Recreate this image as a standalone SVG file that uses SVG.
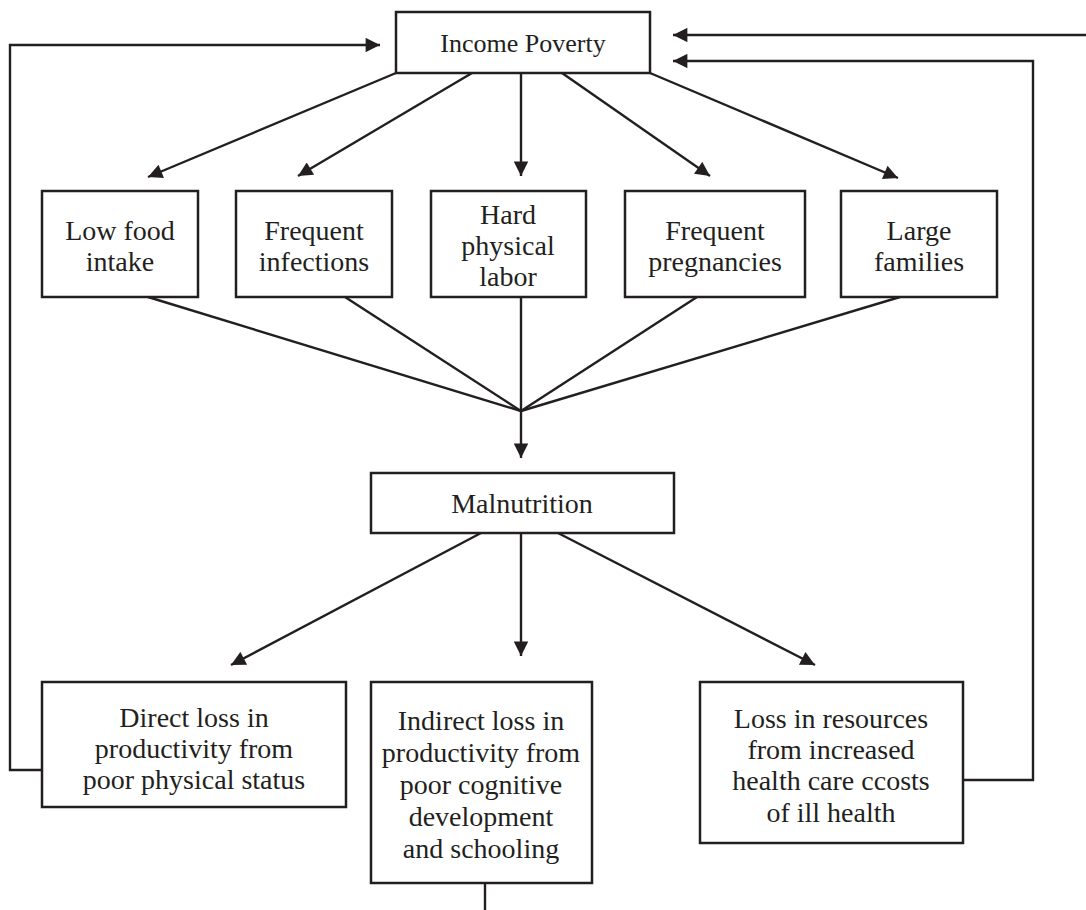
<svg xmlns="http://www.w3.org/2000/svg" width="1086" height="910" viewBox="0 0 1086 910">
<style>
.box{fill:#fff;stroke:#231f20;stroke-width:2.5}
.t{font-family:"Liberation Serif","Times New Roman",serif;font-size:28px;fill:#231f20;text-anchor:middle}
.ts{font-family:"Liberation Serif","Times New Roman",serif;font-size:26px;fill:#231f20;text-anchor:middle}
.c{fill:none;stroke:#231f20;stroke-width:2.4}
</style>
<defs>
<marker id="ah" viewBox="0 0 10 10" refX="10" refY="5" markerWidth="6.5" markerHeight="6" markerUnits="strokeWidth" orient="auto">
<path d="M0,0 L10,5 L0,10 z" fill="#231f20"/>
</marker>
</defs>
<rect width="1086" height="910" fill="#fff"/>
<g id="connectors">
<polyline class="c" points="42,770 10,770 10,45 380,45" marker-end="url(#ah)"/>
<line class="c" x1="1086" y1="35" x2="673" y2="35" marker-end="url(#ah)"/>
<polyline class="c" points="963,780 1033,780 1033,61 673,61" marker-end="url(#ah)"/>
<line class="c" x1="396" y1="73" x2="148" y2="177" marker-end="url(#ah)"/>
<line class="c" x1="472" y1="73" x2="298" y2="176" marker-end="url(#ah)"/>
<line class="c" x1="521" y1="73" x2="521" y2="176" marker-end="url(#ah)"/>
<line class="c" x1="562" y1="73" x2="710" y2="176" marker-end="url(#ah)"/>
<line class="c" x1="650" y1="73" x2="898" y2="178" marker-end="url(#ah)"/>
<line class="c" x1="148" y1="297" x2="521" y2="411"/>
<line class="c" x1="345" y1="297" x2="521" y2="411"/>
<line class="c" x1="521" y1="297" x2="521" y2="411"/>
<line class="c" x1="697" y1="297" x2="521" y2="411"/>
<line class="c" x1="900" y1="297" x2="521" y2="411"/>
<line class="c" x1="521" y1="411" x2="521" y2="458" marker-end="url(#ah)"/>
<line class="c" x1="481" y1="533" x2="231" y2="665" marker-end="url(#ah)"/>
<line class="c" x1="521" y1="533" x2="521" y2="656" marker-end="url(#ah)"/>
<line class="c" x1="558" y1="533" x2="815" y2="665" marker-end="url(#ah)"/>
<line class="c" x1="485" y1="883" x2="485" y2="910"/>
</g>
<g id="income-poverty">
<rect class="box" x="396" y="12" width="254" height="61"/>
<text class="ts" x="523" y="52">Income Poverty</text>
</g>
<g id="low-food">
<rect class="box" x="42" y="191" width="156" height="106"/>
<text class="t" x="120" y="240">Low food</text>
<text class="t" x="120" y="271">intake</text>
</g>
<g id="frequent-infections">
<rect class="box" x="236" y="191" width="156" height="106"/>
<text class="t" x="314" y="240">Frequent</text>
<text class="t" x="314" y="271">infections</text>
</g>
<g id="hard-labor">
<rect class="box" x="431" y="191" width="155" height="106"/>
<text class="t" x="508" y="224">Hard</text>
<text class="t" x="508" y="255">physical</text>
<text class="t" x="508" y="286">labor</text>
</g>
<g id="frequent-pregnancies">
<rect class="box" x="625" y="191" width="180" height="106"/>
<text class="t" x="715" y="240">Frequent</text>
<text class="t" x="715" y="271">pregnancies</text>
</g>
<g id="large-families">
<rect class="box" x="841" y="191" width="156" height="106"/>
<text class="t" x="919" y="240">Large</text>
<text class="t" x="919" y="271">families</text>
</g>
<g id="malnutrition">
<rect class="box" x="371" y="473" width="303" height="60"/>
<text class="t" x="522" y="513">Malnutrition</text>
</g>
<g id="direct-loss">
<rect class="box" x="42" y="682" width="304" height="125"/>
<text class="t" x="194" y="727">Direct loss in</text>
<text class="t" x="194" y="758">productivity from</text>
<text class="t" x="194" y="789">poor physical status</text>
</g>
<g id="indirect-loss">
<rect class="box" x="371" y="682" width="221" height="201"/>
<text class="t" x="481" y="730">Indirect loss in</text>
<text class="t" x="481" y="762">productivity from</text>
<text class="t" x="481" y="794">poor cognitive</text>
<text class="t" x="481" y="826">development</text>
<text class="t" x="481" y="858">and schooling</text>
</g>
<g id="loss-resources">
<rect class="box" x="700" y="682" width="263" height="161"/>
<text class="t" x="831" y="728">Loss in resources</text>
<text class="t" x="831" y="759">from increased</text>
<text class="t" x="831" y="790">health care ccosts</text>
<text class="t" x="831" y="822">of ill health</text>
</g>
</svg>
